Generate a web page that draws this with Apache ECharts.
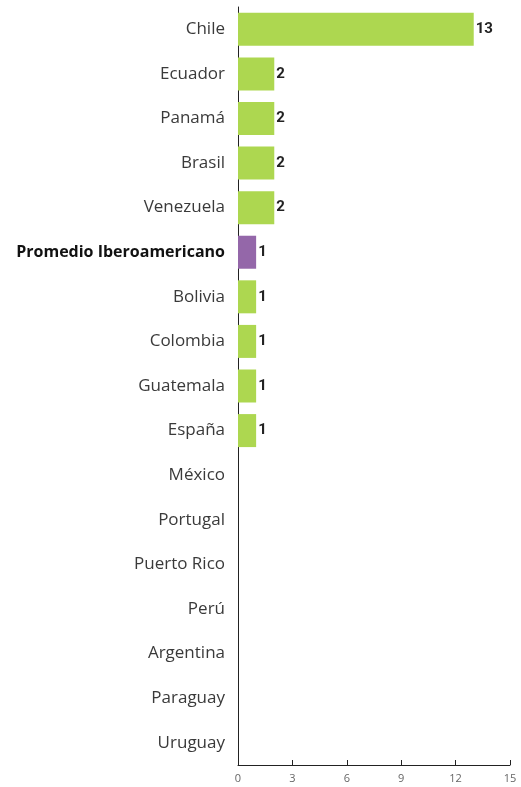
<!DOCTYPE html>
<html><head><meta charset="utf-8">
<script src="https://cdn.jsdelivr.net/npm/echarts@6/dist/echarts.min.js"></script>
<style>html,body{margin:0;padding:0;background:#fff}#c{width:521px;height:787px}</style>
</head><body><div id="c"></div>
<script>
const categories = ["Chile","Ecuador","Panamá","Brasil","Venezuela","Promedio Iberoamericano","Bolivia","Colombia","Guatemala","España","México","Portugal","Puerto Rico","Perú","Argentina","Paraguay","Uruguay"];
const values = [13,2,2,2,2,1,1,1,1,1,0,0,0,0,0,0,0];
const highlight = "Promedio Iberoamericano";
const xTicks = [0,3,6,9,12,15];

const chart = echarts.init(document.getElementById('c'));
chart.setOption({
  animation:false,
  grid:{left:238,right:11,top:7,bottom:22,containLabel:false},
  xAxis:{type:'value',min:0,max:15,interval:3,
    axisLine:{show:true,lineStyle:{color:'#222',width:1}},
    axisTick:{show:true,inside:true,length:5,lineStyle:{color:'#222'}},
    splitLine:{show:false},
    axisLabel:{color:'#666',fontSize:11,fontFamily:'Open Sans',margin:8}},
  yAxis:{type:'category',data:categories,inverse:true,
    axisLine:{show:true,lineStyle:{color:'#222',width:1}},
    axisTick:{show:false},
    axisLabel:{margin:13,fontSize:17,fontFamily:'Open Sans',color:'#3a3a3a',
      formatter:v=> v===highlight?'{b|'+v+'}':v,
      rich:{b:{fontWeight:'bold',color:'#111',fontSize:16,fontFamily:'Open Sans'}}}},
  series:[{type:'bar',barCategoryGap:'26%',
    data:values.map((v,i)=>({value:v,itemStyle:{color:categories[i]===highlight?'#9467a9':'#add750'}})),
    label:{show:true,position:'right',distance:2,fontSize:15,fontWeight:'bold',fontFamily:'Roboto',color:'#222',
      formatter:p=>p.value?p.value:''}}]
});
</script></body></html>
